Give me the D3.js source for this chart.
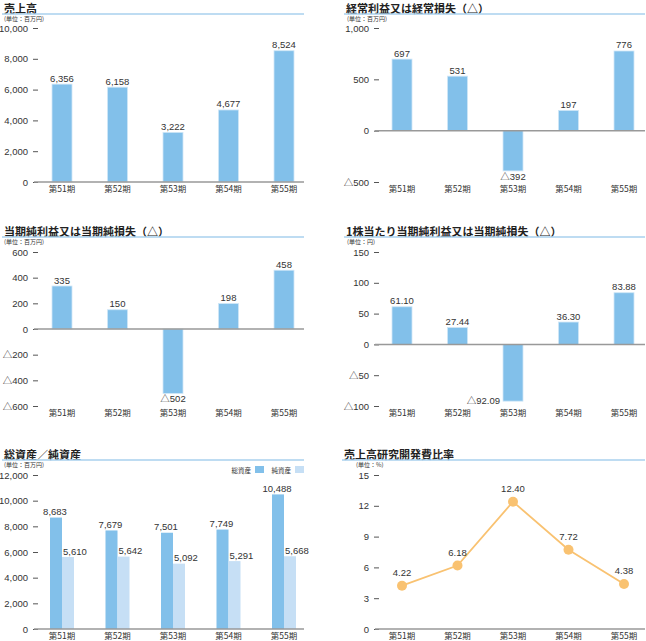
<!DOCTYPE html>
<html>
<head>
<meta charset="utf-8">
<script src="https://cdnjs.cloudflare.com/ajax/libs/d3/7.8.5/d3.min.js"></script>
<style>
  body { margin: 0; background: #fff; }
  svg text { font-family: "Liberation Sans", "Noto Sans CJK JP", sans-serif; fill: #333; }
  .jp { font-family: "Noto Sans CJK JP", sans-serif; }
</style>
</head>
<body>
<div id="container"></div>
<script>
// data
var periods = ["第51期", "第52期", "第53期", "第54期", "第55期"];
var sales = [6356, 6158, 3222, 4677, 8524];
var ordinary = [697, 531, -392, 197, 776];
var netIncome = [335, 150, -502, 198, 458];
var eps = [61.10, 27.44, -92.09, 36.30, 83.88];
var totalAssets = [8683, 7679, 7501, 7749, 10488];
var netAssets = [5610, 5642, 5092, 5291, 5668];
var rdRatio = [4.22, 6.18, 12.40, 7.72, 4.38];

var W = 646, H = 641;
var barColor = "#82c0ea", lightColor = "#c6dff5", orange = "#f9c271";

var svg = d3.select("#container").append("svg")
  .attr("width", W).attr("height", H);

function fmt(dec) {
  var f = dec ? d3.format(",." + dec + "f") : d3.format(",");
  return function(v) { return v < 0 ? "△" + f(-v) : f(v); };
}

// panel frame: title, underline, unit, y axis, x labels
function panel(o) {
  var g = svg.append("g");
  g.append("text").attr("class", "jp")
    .attr("x", o.tx).attr("y", o.top + 12.5)
    .attr("font-size", 11).attr("font-weight", "bold").style("fill", "#222")
    .text(o.title);
  g.append("line")
    .attr("x1", o.tx - 2).attr("x2", o.right)
    .attr("y1", o.top + 14).attr("y2", o.top + 14)
    .attr("stroke", "#a9d0ee").attr("stroke-width", 1.5);
  g.append("text").attr("class", "jp")
    .attr("x", o.ux).attr("y", o.top + 21)
    .attr("font-size", 6).text(o.unit);

  var y = d3.scaleLinear().domain(o.domain).range([o.y0, o.y1]);
  var x = d3.scalePoint().domain(periods).range([o.cx0, o.cx0 + 222]);

  var ax = g.append("g")
    .attr("transform", "translate(" + o.ax + ",0)")
    .call(d3.axisLeft(y).tickValues(o.ticks).tickSize(5).tickPadding(o.pad)
      .tickFormat(fmt(0)));
  ax.select(".domain").remove();
  ax.selectAll("line").attr("stroke", "#555");
  ax.selectAll("text").attr("font-size", 9.5).style("fill", "#333");

  g.selectAll("text.xl").data(periods).enter().append("text")
    .attr("class", "xl jp")
    .attr("x", function(d) { return x(d); })
    .attr("y", o.y0 + 10)
    .attr("text-anchor", "middle").attr("font-size", 8.5)
    .text(function(d) { return d; });

  return { g: g, x: x, y: y };
}

function baseline(p, o, v) {
  p.g.append("line")
    .attr("x1", o.ax - 4).attr("x2", o.right)
    .attr("y1", p.y(v)).attr("y2", p.y(v))
    .attr("stroke", "#999").attr("stroke-width", 1.5);
}

function barPanel(o, vals, dec) {
  var p = panel(o);
  var f = fmt(dec);
  p.g.selectAll("rect.bar").data(vals).enter().append("rect")
    .attr("class", "bar")
    .attr("x", function(d, i) { return p.x(periods[i]) - 10; })
    .attr("width", 20)
    .attr("y", function(d) { return p.y(Math.max(0, d)); })
    .attr("height", function(d) { return Math.abs(p.y(d) - p.y(0)); })
    .attr("fill", barColor).attr("stroke", "#cfe6f7").attr("stroke-width", 0.8);
  baseline(p, o, 0);
  p.g.selectAll("text.val").data(vals).enter().append("text")
    .attr("class", "val")
    .attr("x", function(d, i) {
      var c = p.x(periods[i]);
      return (d < 0 && o.negSide) ? c - 13 : c;
    })
    .attr("y", function(d) {
      if (d >= 0) return p.y(d) - 2.5;
      return o.negSide ? p.y(d) + 3 : p.y(d) + 9;
    })
    .attr("text-anchor", function(d) { return (d < 0 && o.negSide) ? "end" : "middle"; })
    .attr("font-size", 9.5)
    .text(f);
  return p;
}

var L = { tx: 4, ux: 4, ax: 38, cx0: 62, right: 304, pad: 5 };
var R = { tx: 346, ux: 347, ax: 379, cx0: 402, right: 645, pad: 5 };

// 売上高
barPanel(Object.assign({}, L, {
  top: 0, title: "売上高", unit: "(単位：百万円)",
  domain: [0, 10000], y0: 182, y1: 28, ticks: [0, 2000, 4000, 6000, 8000, 10000]
}), sales, 0);

// 経常利益
barPanel(Object.assign({}, R, {
  top: 0, title: "経常利益又は経常損失（△）", unit: "(単位：百万円)",
  domain: [-500, 1000], y0: 182, y1: 28, ticks: [-500, 0, 500, 1000]
}), ordinary, 0);

// 当期純利益
barPanel(Object.assign({}, L, {
  top: 223, title: "当期純利益又は当期純損失（△）", unit: "(単位：百万円)",
  domain: [-600, 600], y0: 406, y1: 252, ticks: [-600, -400, -200, 0, 200, 400, 600]
}), netIncome, 0);

// 1株当たり
barPanel(Object.assign({}, R, {
  top: 223, title: "1株当たり当期純利益又は当期純損失（△）", unit: "(単位：円)",
  domain: [-100, 150], y0: 406, y1: 252, ticks: [-100, -50, 0, 50, 100, 150], negSide: true
}), eps, 2);

// 総資産／純資産
var o5 = Object.assign({}, L, {
  top: 446, title: "総資産／純資産", unit: "(単位：百万円)",
  domain: [0, 12000], y0: 629, y1: 475, ticks: [0, 2000, 4000, 6000, 8000, 10000, 12000]
});
var p5 = panel(o5);
p5.g.selectAll("rect.ta").data(totalAssets).enter().append("rect")
  .attr("x", function(d, i) { return p5.x(periods[i]) - 12; })
  .attr("width", 12)
  .attr("y", function(d) { return p5.y(d); })
  .attr("height", function(d) { return p5.y(0) - p5.y(d); })
  .attr("fill", barColor);
p5.g.selectAll("rect.na").data(netAssets).enter().append("rect")
  .attr("x", function(d, i) { return p5.x(periods[i]); })
  .attr("width", 12)
  .attr("y", function(d) { return p5.y(d); })
  .attr("height", function(d) { return p5.y(0) - p5.y(d); })
  .attr("fill", lightColor);
baseline(p5, o5, 0);
p5.g.selectAll("text.tav").data(totalAssets).enter().append("text")
  .attr("x", function(d, i) { return p5.x(periods[i]) - 7; })
  .attr("y", function(d) { return p5.y(d) - 2.5; })
  .attr("text-anchor", "middle").attr("font-size", 9.5)
  .text(fmt(0));
p5.g.selectAll("text.nav").data(netAssets).enter().append("text")
  .attr("x", function(d, i) { return p5.x(periods[i]) + 1; })
  .attr("y", function(d) { return p5.y(d) - 2.5; })
  .attr("font-size", 9.5)
  .text(fmt(0));
// legend
var legend = [["総資産", barColor, 255], ["純資産", lightColor, 295]];
legend.forEach(function(l) {
  p5.g.append("rect").attr("x", l[2]).attr("y", 466).attr("width", 9).attr("height", 7)
    .attr("fill", l[1]);
  p5.g.append("text").attr("class", "jp").attr("x", l[2] - 4).attr("y", 472.5)
    .attr("text-anchor", "end").attr("font-size", 6.5).text(l[0]);
});

// 売上高研究開発費比率
var o6 = Object.assign({}, R, {
  tx: 344, ux: 356, top: 446, title: "売上高研究開発費比率", unit: "(単位：%)",
  domain: [0, 15], y0: 629, y1: 475, ticks: [0, 3, 6, 9, 12, 15]
});
var p6 = panel(o6);
baseline(p6, o6, 0);
var line = d3.line()
  .x(function(d, i) { return p6.x(periods[i]); })
  .y(function(d) { return p6.y(d); });
p6.g.append("path").datum(rdRatio)
  .attr("d", line).attr("fill", "none")
  .attr("stroke", orange).attr("stroke-width", 1.8);
p6.g.selectAll("circle").data(rdRatio).enter().append("circle")
  .attr("cx", function(d, i) { return p6.x(periods[i]); })
  .attr("cy", function(d) { return p6.y(d); })
  .attr("r", 5).attr("fill", orange);
p6.g.selectAll("text.rv").data(rdRatio).enter().append("text")
  .attr("x", function(d, i) { return p6.x(periods[i]); })
  .attr("y", function(d) { return p6.y(d) - 10; })
  .attr("text-anchor", "middle").attr("font-size", 9.5)
  .text(fmt(2));
</script>
</body>
</html>
